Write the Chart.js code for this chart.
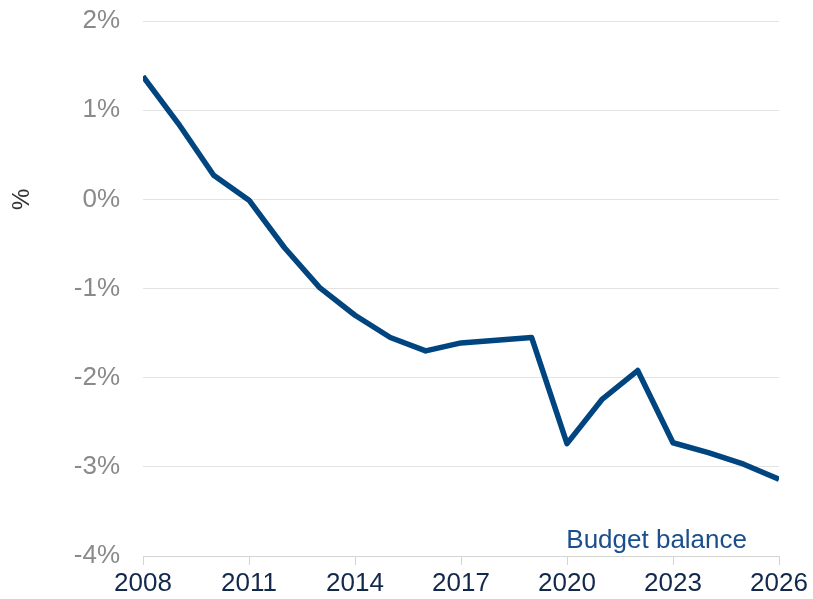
<!DOCTYPE html>
<html>
<head>
<meta charset="utf-8">
<script src="https://cdn.jsdelivr.net/npm/chart.js@4/dist/chart.umd.min.js"></script>
<style>
  html, body { margin: 0; padding: 0; background: #fff; }
  #wrap { width: 813px; height: 599px; position: relative; }
</style>
</head>
<body>
<div id="wrap"><canvas id="chart"></canvas></div>
<script>
const years = [2008, 2009, 2010, 2011, 2012, 2013, 2014, 2015, 2016, 2017, 2018, 2019, 2020, 2021, 2022, 2023, 2024, 2025, 2026];
const budgetBalance = [1.38, 0.85, 0.27, -0.01, -0.54, -0.99, -1.30, -1.55, -1.70, -1.61, -1.58, -1.55, -2.74, -2.24, -1.92, -2.73, -2.84, -2.97, -3.14];
const seriesLabel = 'Budget balance';
const yTitle = '%';

const lineColor = '#00457f';
const fontFamily = "'Liberation Sans', Arial, sans-serif";

// series name inside the plot (bottom right) and the "%" axis title, which sits level with 0%
const labelsPlugin = {
  id: 'labels',
  afterDraw(chart) {
    const { ctx, chartArea, scales } = chart;
    ctx.save();
    ctx.font = '26px ' + fontFamily;
    ctx.fillStyle = '#1a4f8c';
    ctx.textAlign = 'right';
    ctx.textBaseline = 'alphabetic';
    ctx.fillText(seriesLabel, chartArea.right - 32, chartArea.bottom - 8);

    ctx.translate(22, scales.y.getPixelForValue(0));
    ctx.rotate(-Math.PI / 2);
    ctx.font = '24px ' + fontFamily;
    ctx.fillStyle = '#333333';
    ctx.textAlign = 'center';
    ctx.textBaseline = 'middle';
    ctx.fillText(yTitle, 0, 0);
    ctx.restore();
  }
};

new Chart(document.getElementById('chart'), {
  type: 'line',
  data: {
    datasets: [{
      label: seriesLabel,
      data: years.map((y, i) => ({ x: y, y: budgetBalance[i] })),
      borderColor: lineColor,
      borderWidth: 5.5,
      pointRadius: 0,
      tension: 0,
      borderJoinStyle: 'round'
    }]
  },
  options: {
    responsive: true,
    maintainAspectRatio: false,
    animation: false,
    layout: { padding: { top: 21, right: 34, bottom: 0, left: 0 } },
    plugins: {
      legend: { display: false },
      tooltip: { enabled: false }
    },
    scales: {
      x: {
        type: 'linear',
        min: 2008,
        max: 2026,
        afterFit: s => { s.height = 43; s.paddingLeft = 0; s.paddingRight = 0; },
        ticks: {
          stepSize: 3,
          color: '#13294b',
          padding: 3,
          maxRotation: 0,
          font: { family: fontFamily, size: 26 },
          callback: v => String(v)
        },
        grid: { drawOnChartArea: false, drawTicks: true, tickLength: 9, color: '#d4d4d4' },
        border: { display: true, color: '#d4d4d4' }
      },
      y: {
        min: -4,
        max: 2,
        afterFit: s => { s.width = 143; s.paddingTop = 0; s.paddingBottom = 0; },
        ticks: {
          stepSize: 1,
          color: '#8a8a8a',
          padding: 23,
          font: { family: fontFamily, size: 26 },
          callback: v => v + '%'
        },
        grid: { color: '#e3e3e3', drawTicks: false, lineWidth: 1 },
        border: { display: false }
      }
    }
  },
  plugins: [labelsPlugin]
});
</script>
</body>
</html>
